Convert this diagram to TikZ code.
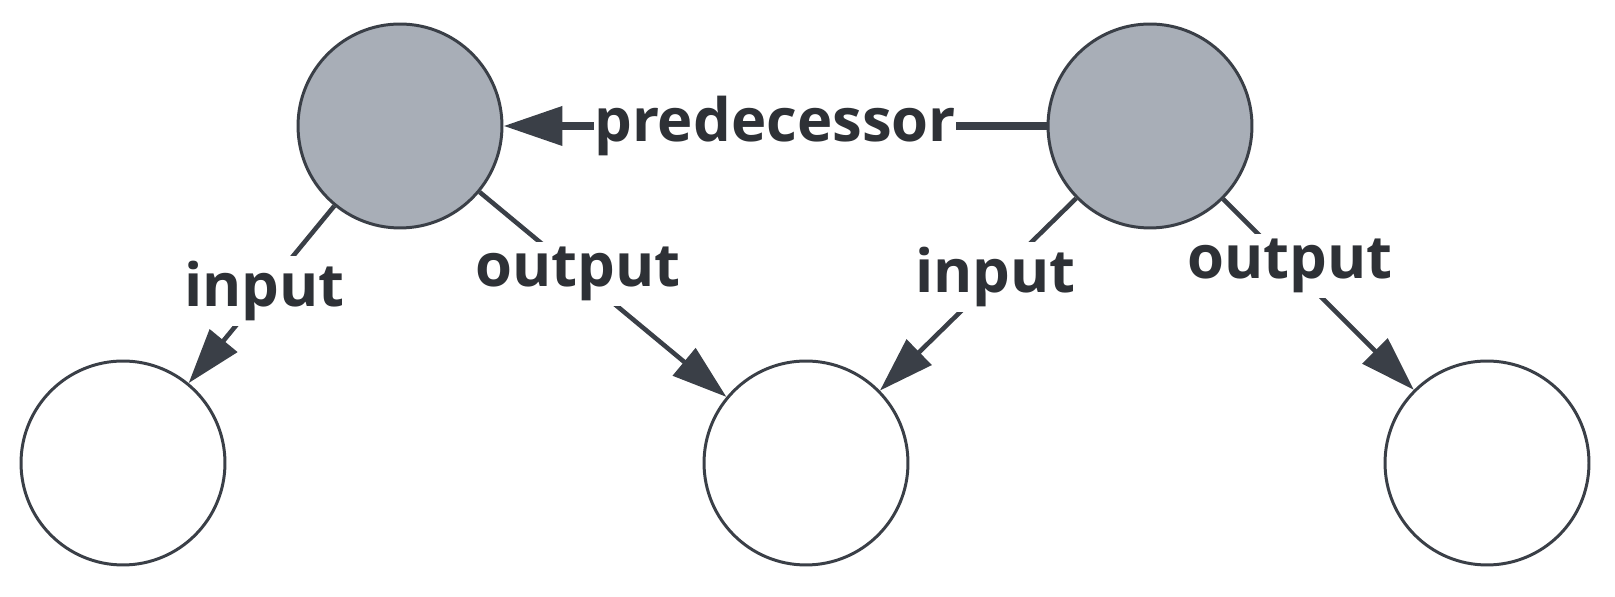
\documentclass[tikz,border=0pt]{standalone}
\usepackage{fontspec}
\setmainfont{Open Sans}
\usepackage{xcolor}
\usetikzlibrary{positioning, arrows.meta}
\definecolor{inkgray}{HTML}{3A3F47}
\definecolor{fillgray}{HTML}{A8AEB7}
\definecolor{textgray}{HTML}{2E3136}
\begin{document}
\begin{tikzpicture}[
x=0.02cm, y=0.02cm,
    state/.style={circle, draw=inkgray, line width=1.7pt, minimum size=4.08cm, inner sep=0pt},
    current/.style={state, fill=fillgray},
    link/.style={draw=inkgray, line width=2.6pt, -{Triangle[length=1.1cm, width=0.7cm]}},
    predlink/.style={draw=inkgray, line width=4.2pt, -{Triangle[length=1.18cm, width=0.76cm]}},
    label/.style={fill=white, text=textgray, inner xsep=0pt, inner ysep=3pt, font=\fontsize{34}{40}\selectfont\bfseries}
]
    \useasboundingbox (0,0) rectangle (1615,597);

    % Nodes
    \node[current] (prev) at (400,471) {};
    \node[current] (cur) at (1150,471) {};

    \node[state] (inA) at (123,134) {};
    \node[state] (mid) at (806,134) {};
    \node[state] (outB) at (1487,134) {};

    % Edges
    \draw[predlink] (cur) -- (prev) node[label, midway] {predecessor};

    \draw[link] (prev) -- (inA) node[label, pos=0.48] {input};
    \draw[link] (prev) -- (mid) node[label, pos=0.40] {output};
    \draw[link] (cur) -- (mid) node[label, pos=0.41] {input};
    \draw[link] (cur) -- (outB) node[label, pos=0.35] {output};

\end{tikzpicture}
\end{document}
